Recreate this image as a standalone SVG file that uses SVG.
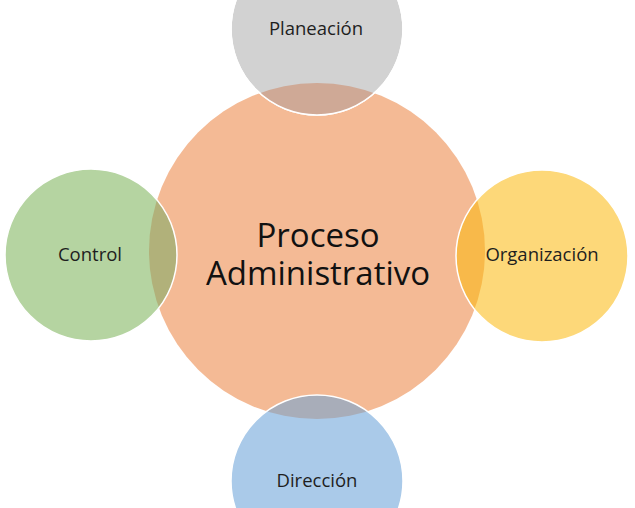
<svg xmlns="http://www.w3.org/2000/svg" width="635" height="508" viewBox="0 0 635 508">
<defs>
<clipPath id="clipCenter"><circle cx="317" cy="251" r="168"/></clipPath>
<style>
.outline{stroke:#FFFFFF;stroke-width:1.5}
.lbl{font-family:"Open Sans","Noto Sans","Liberation Sans",sans-serif;font-size:18.5px;fill:#1E1E1E;text-anchor:middle}
.main{font-family:"Open Sans","Noto Sans","Liberation Sans",sans-serif;font-size:33px;fill:#111111;text-anchor:middle}
</style>
</defs>
<rect width="635" height="508" fill="#FFFFFF"/>
<g id="center">
<circle cx="317" cy="251" r="168" fill="#F4BA95"/>
</g>
<g id="planeacion">
<circle cx="317" cy="29" r="86" fill="#D2D2D2" class="outline"/>
<circle cx="317" cy="29" r="86" fill="#CFA996" clip-path="url(#clipCenter)"/>
<circle cx="317" cy="29" r="86" fill="none" class="outline"/>
<text class="lbl" x="316" y="35">Planeación</text>
</g>
<g id="control">
<circle cx="91" cy="255" r="86" fill="#B5D4A1"/>
<circle cx="91" cy="255" r="86" fill="#B1B17A" clip-path="url(#clipCenter)"/>
<circle cx="91" cy="255" r="86" fill="none" class="outline"/>
<text class="lbl" x="90" y="261">Control</text>
</g>
<g id="organizacion">
<circle cx="542" cy="256" r="86" fill="#FDD879"/>
<circle cx="542" cy="256" r="86" fill="#F8B94A" clip-path="url(#clipCenter)"/>
<circle cx="542" cy="256" r="86" fill="none" class="outline"/>
<text class="lbl" x="542" y="261">Organización</text>
</g>
<g id="direccion">
<circle cx="317" cy="481" r="86" fill="#AACAE9"/>
<circle cx="317" cy="481" r="86" fill="#A8ADB9" clip-path="url(#clipCenter)"/>
<circle cx="317" cy="481" r="86" fill="none" class="outline"/>
<text class="lbl" x="317" y="487">Dirección</text>
</g>
<g id="center-label">
<text class="main" x="318" y="247">Proceso</text>
<text class="main" x="318" y="285">Administrativo</text>
</g>
<g id="connectors"></g>
</svg>
